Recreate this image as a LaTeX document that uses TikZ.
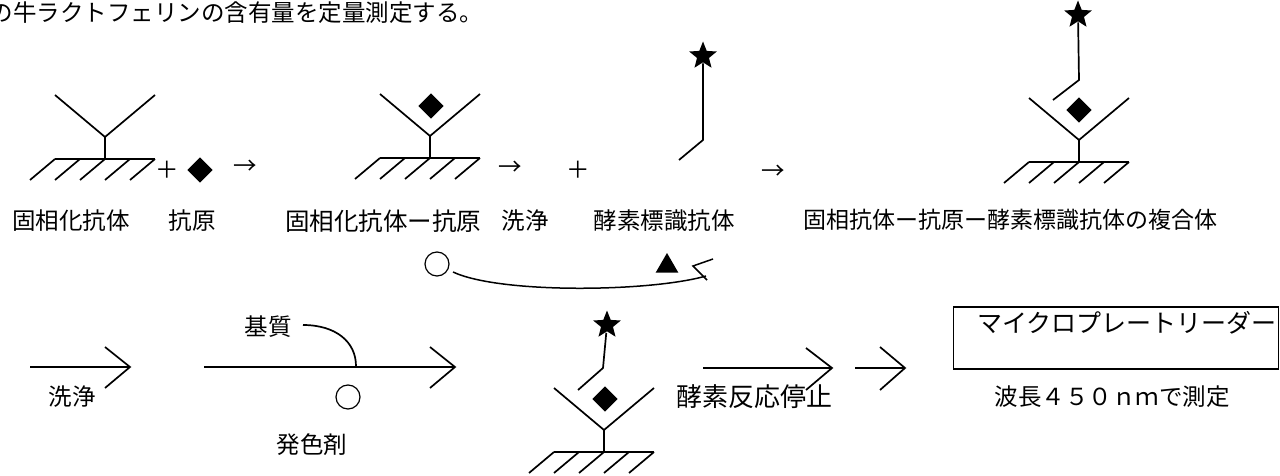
\documentclass[tikz,border=0pt]{standalone}
\usepackage{fontspec}
\setmainfont{Noto Sans CJK JP}
\usetikzlibrary{shapes.geometric}
\begin{document}
\begin{tikzpicture}[x=1pt,y=-1pt, line width=1.7pt,
  lbl/.style={inner sep=0pt, font=\fontsize{23.5}{26}\selectfont},
  starsym/.style={star, star points=5, star point ratio=2.3, fill=black, inner sep=0pt, minimum size=29pt},
  diam/.style={diamond, fill=black, inner sep=0pt, minimum width=26pt, minimum height=26pt},
  ring/.style={circle, draw, line width=1.2pt, inner sep=0pt, minimum size=24pt},
  tri/.style={regular polygon, regular polygon sides=3, fill=black, inner sep=0pt, minimum size=26pt},
  thin/.style={line width=1.5pt},
  solidab/.pic={
    \draw (-50,0) -- (50,0);
    \draw (0,0) -- (0,-22);
    \draw (-50,-64) -- (0,-22) -- (50,-64);
    \foreach \i in {0,...,4} \draw (-50+25*\i,0) -- (-75+25*\i,21);
  },
]
\useasboundingbox (0,0) rectangle (1280,476);

% title
\node[lbl, anchor=west] (title) at (-11,13) {の牛ラクトフェリンの含有量を定量測定する。};

% ---- row 1 ----
\pic at (105,159) {solidab};
\node[lbl] (plus1) at (167,170) {＋};
\node[diam] (ag1) at (200,170) {};
\node[lbl] (ar1) at (245,167) {→};

\pic at (430,158) {solidab};
\node[diam] (ag2) at (431,106) {};
\node[lbl] (ar2) at (510,168) {→};
\node[lbl] (plus2) at (578,170) {＋};

\node[starsym] (st1) at (703,56) {};
\coordinate (b1) at (703,140);
\coordinate (e1) at (679,160);
\draw (st1) -- (b1) -- (e1);
\node[lbl] (ar3) at (773,172) {→};

\pic at (1079,162) {solidab};
\node[diam] (ag3) at (1079,110) {};
\node[starsym] (st2) at (1078,15) {};
\coordinate (b2) at (1079,80);
\coordinate (e2) at (1053,100);
\draw (st2) -- (b2) -- (e2);

\node[lbl] (l1) at (71,221) {固相化抗体};
\node[lbl] (l2) at (192,221) {抗原};
\node[lbl, font=\fontsize{24.5}{26}\selectfont] (l3) at (383,221) {固相化抗体ー抗原};
\node[lbl] (l4) at (525,221) {洗浄};
\node[lbl] (l5) at (664,221) {酵素標識抗体};
\node[lbl, font=\fontsize{23}{26}\selectfont] (l6) at (1010,220) {固相抗体ー抗原ー酵素標識抗体の複合体};

% ---- curve row ----
\node[ring] (c1) at (437,264) {};
\coordinate (cs) at (453,272);
\coordinate (ce) at (706,276);
\node[tri] (t1) at (667,266) {};
\draw[thin] (cs) .. controls (500,294) and (650,292) .. (ce);
\coordinate (z1) at (713,259);
\coordinate (z2) at (693,266);
\coordinate (z3) at (707,280);
\draw[thin] (z1) -- (z2) -- (z3);

% ---- row 2 ----
\coordinate (a1s) at (30,367); \coordinate (a1e) at (130,367);
\draw (a1s) -- (a1e); \draw (105,347) -- (a1e) -- (105,388);
\node[lbl] (w2) at (72,397) {洗浄};

\coordinate (a2s) at (204,367); \coordinate (a2e) at (455,367);
\draw (a2s) -- (a2e); \draw (430,347) -- (a2e) -- (430,388);
\node[lbl] (sub) at (268,327) {基質};
\coordinate (s1) at (303,325); \coordinate (s2) at (356,366);
\draw (s1) .. controls (336,325) and (356,342) .. (s2);
\node[ring] (c2) at (348,397) {};
\node[lbl] (dev) at (312,445) {発色剤};

\pic at (604,452) {solidab};
\node[diam] (ag4) at (605,399) {};
\node[starsym] (st3) at (607,325) {};
\coordinate (b3) at (603,368);
\coordinate (e3) at (578,390);
\draw (st3) -- (b3) -- (e3);

\coordinate (a3s) at (703,368); \coordinate (a3e) at (832,368);
\draw (a3s) -- (a3e); \draw (806,348) -- (a3e) -- (806,390);
\node[lbl, font=\fontsize{26}{28}\selectfont] (stop) at (754,397) {酵素反応停止};

\coordinate (a4s) at (855,368); \coordinate (a4e) at (905,368);
\draw (a4s) -- (a4e); \draw (880,347) -- (a4e) -- (880,390);

\node[draw, inner sep=0pt, minimum width=325pt, minimum height=62pt] (box) at (1116,338) {};
\node[lbl, font=\fontsize{25}{28}\selectfont] (reader) at (1127,323) {マイクロプレートリーダー};
\node[lbl] (wave) at (1112,397) {波長４５０ｎｍで測定};
\end{tikzpicture}
\end{document}
